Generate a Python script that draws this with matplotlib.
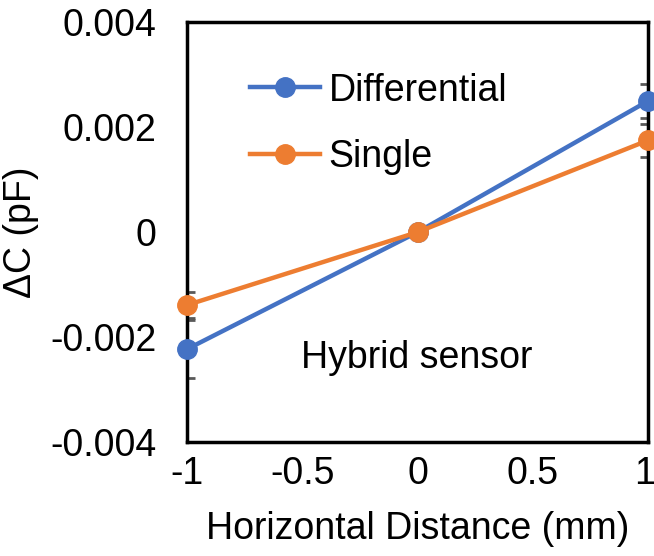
import numpy as np
import matplotlib.pyplot as plt
from matplotlib.transforms import ScaledTranslation

plt.rcParams['font.family'] = ['Liberation Sans', 'DejaVu Sans']

x = [-1, 0, 1]
diff_vals = [-0.00223, 0.0, 0.0025]
diff_err = [0.00055, 0.0, 0.00032]
single_vals = [-0.00139, 0.0, 0.00175]
single_err = [0.00025, 0.0, 0.00032]

xticks = [-1, -0.5, 0, 0.5, 1]
xtick_labels = ["-1", "-0.5", "0", "0.5", "1"]
yticks = [-0.004, -0.002, 0, 0.002, 0.004]
ytick_labels = ["-0.004", "-0.002", "0", "0.002", "0.004"]

blue = "#4472C4"
orange = "#ED7D31"
fs = 27

fig = plt.figure(figsize=(6.54, 5.56), dpi=100)
ax = fig.add_axes([0.286, 0.205, 0.705, 0.755])

# error bars (caps only partly visible at the frame edges)
ax.errorbar(x, diff_vals, yerr=diff_err, fmt="none", ecolor="#595959",
            elinewidth=1.5, capsize=6, capthick=2, zorder=1)
ax.errorbar(x, single_vals, yerr=single_err, fmt="none", ecolor="#595959",
            elinewidth=1.5, capsize=6, capthick=2, zorder=1)

ax.plot(x, diff_vals, color=blue, lw=3.2, marker="o", ms=14,
        label="Differential", clip_on=False, zorder=3)
ax.plot(x, single_vals, color=orange, lw=3.2, marker="o", ms=14,
        label="Single", clip_on=False, zorder=4)

ax.set_xlim(-1, 1)
ax.set_ylim(-0.004, 0.004)
ax.set_xticks(xticks)
ax.set_xticklabels(xtick_labels, fontsize=fs)
ax.set_yticks(yticks)
ax.set_yticklabels(ytick_labels, fontsize=fs)
ax.tick_params(length=0)
ax.tick_params(axis="y", pad=22)
ax.tick_params(axis="x", pad=10)

# keep the last x label inside the figure
last = ax.get_xticklabels()[-1]
last.set_transform(last.get_transform() + ScaledTranslation(-4 / 100, 0, fig.dpi_scale_trans))

for s in ax.spines.values():
    s.set_linewidth(2.5)
    s.set_color("black")

ax.set_xlabel("Horizontal Distance (mm)", fontsize=fs, labelpad=14)
ax.set_ylabel("ΔC (pF)", fontsize=fs, labelpad=8)

ax.text(-0.005, -0.0024, "Hybrid sensor", fontsize=fs, ha="center", va="center")

ax.legend(loc="upper left", bbox_to_anchor=(0.137, 0.88), frameon=False,
          fontsize=fs, borderpad=0, borderaxespad=0, handlelength=1.87,
          handletextpad=0.22, labelspacing=0.82)

fig.savefig("out.png", dpi=100)
